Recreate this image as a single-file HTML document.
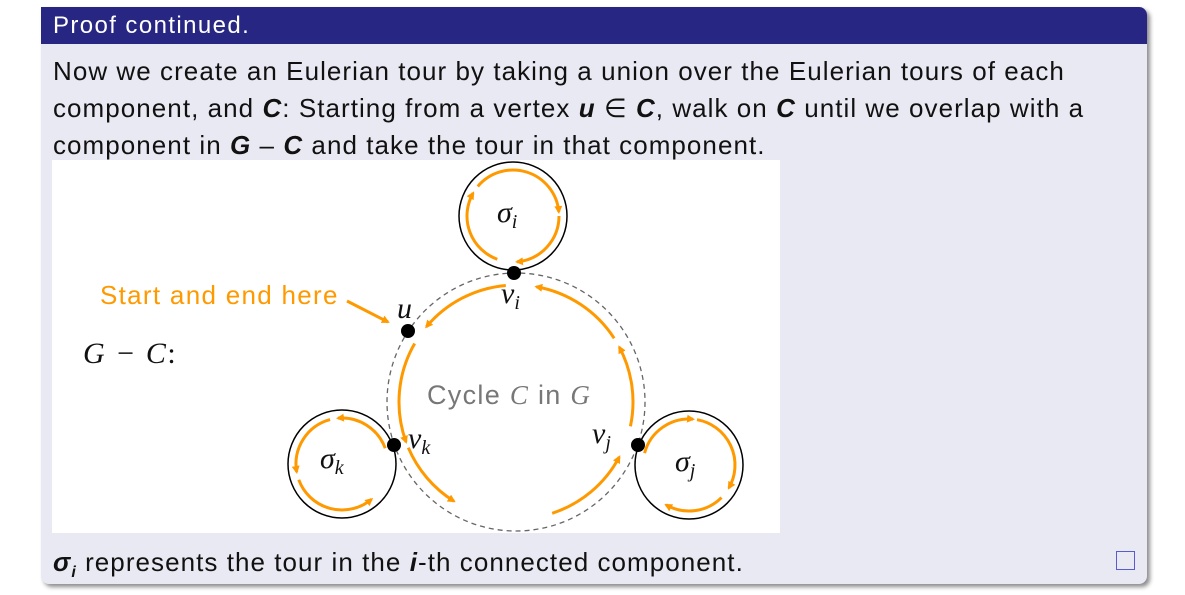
<!DOCTYPE html>
<html><head><meta charset="utf-8">
<style>
body{margin:0;width:1185px;height:595px;background:#fff;overflow:hidden;font-family:"Liberation Sans",sans-serif;position:relative}
#box{position:absolute;left:41px;top:7px;width:1106px;height:577px;background:#e9e9f3;border-radius:0 8px 8px 8px;box-shadow:3px 3px 4px rgba(0,0,0,.45)}
#hdr{position:absolute;left:0;top:0;width:100%;height:37px;background:#272783;border-radius:0 8px 0 0;color:#fff;font-size:24px;letter-spacing:1.4px;line-height:38px;padding-left:12px;box-sizing:border-box}
.t{position:absolute;left:12px;font-size:26px;letter-spacing:1.05px;color:#111;white-space:nowrap}
#img{position:absolute;left:11px;top:153px;width:728px;height:373px;background:#fff}
#qed{position:absolute;left:1075px;top:544px;width:17px;height:17px;border:1.5px solid #5b5bd0}
</style></head><body>
<div id="box">
<div id="hdr">Proof continued.</div>
<div class="t" style="top:49px">Now we create an Eulerian tour by taking a union over the Eulerian tours of each</div>
<div class="t" style="top:86px">component, and <b><i>C</i></b>: Starting from a vertex <b><i>u</i></b> ∈ <b><i>C</i></b>, walk on <b><i>C</i></b> until we overlap with a</div>
<div class="t" style="top:123px">component in <b><i>G</i></b> – <b><i>C</i></b> and take the tour in that component.</div>
<div id="img"></div>
<div class="t" style="top:540px"><b><i>σ<sub style="font-size:16px">i</sub></i></b> represents the tour in the <b><i>i</i></b>-th connected component.</div>
<div id="qed"></div>
</div>
<svg id="dg" width="1185" height="595" style="position:absolute;left:0;top:0">
<defs><marker id="ah" markerWidth="8" markerHeight="8" refX="6" refY="4" orient="auto" markerUnits="userSpaceOnUse"><path d="M0,0 L8,4 L0,8 z" fill="#ff9900"/></marker></defs>
<circle cx="516" cy="402" r="129" fill="none" stroke="#666" stroke-width="1.3" stroke-dasharray="5,4"/>
<circle cx="513" cy="216" r="54" fill="none" stroke="#000" stroke-width="1.5"/>
<circle cx="342" cy="464" r="54" fill="none" stroke="#000" stroke-width="1.5"/>
<circle cx="689" cy="465" r="54" fill="none" stroke="#000" stroke-width="1.5"/>
<g id="paths"></g>
<line x1="347" y1="301" x2="388" y2="322" stroke="#ff9900" stroke-width="3" marker-end="url(#ah)"/>
<circle cx="514" cy="273" r="7"/>
<circle cx="408" cy="331" r="7"/>
<circle cx="394" cy="445" r="7"/>
<circle cx="638" cy="445" r="7"/>
<g font-family="Liberation Serif,serif" font-style="italic" font-size="30" fill="#111">
<text x="497" y="222">σ<tspan font-size="20" dy="6">i</tspan></text>
<text x="320" y="468">σ<tspan font-size="20" dy="6">k</tspan></text>
<text x="675" y="471">σ<tspan font-size="20" dy="6">j</tspan></text>
<text x="501" y="303">v<tspan font-size="20" dy="6">i</tspan></text>
<text x="397" y="318">u</text>
<text x="408" y="448">v<tspan font-size="20" dy="6">k</tspan></text>
<text x="592" y="443">v<tspan font-size="20" dy="6">j</tspan></text>
<text x="83" y="363" font-size="30" letter-spacing="1.5">G − C<tspan font-style="normal">:</tspan></text>
</g>
<text x="100" y="304" font-size="26" letter-spacing="1.3" fill="#ff9900">Start and end here</text>
<text x="427" y="404" font-size="27" letter-spacing="1.3" fill="#777">Cycle <tspan font-family="Liberation Serif,serif" font-style="italic">C</tspan> in <tspan font-family="Liberation Serif,serif" font-style="italic">G</tspan></text>
</svg>
<script>
// arc segments: [cx, cy, r, startDeg, endDeg]
const arcs=[
[516,402,117,-95,-140],[516,402,117,-150,-200],[516,402,117,157,122],
[516,402,117,72,28],[516,402,117,12,-28],[516,402,117,-33,-80],
[513,216,46,110,210],[513,216,46,220,355],[513,216,46,0,85],
[342,464,46,-20,-95],[342,464,46,-105,-190],[342,464,46,160,50],
[689,465,46,195,275],[689,465,46,-80,30],[689,465,46,45,120]
];
const g=document.getElementById('paths');
function pt(c,a){const r=a*Math.PI/180;return [c[0]+c[2]*Math.cos(r),c[1]+c[2]*Math.sin(r)];}
arcs.forEach(function(c){
 const p1=pt(c,c[3]),p2=pt(c,c[4]);
 const d=c[4]-c[3];const large=Math.abs(d)>180?1:0;const sweep=d>0?1:0;
 const p=document.createElementNS('http://www.w3.org/2000/svg','path');
 p.setAttribute('d','M'+p1[0]+','+p1[1]+' A'+c[2]+','+c[2]+' 0 '+large+' '+sweep+' '+p2[0]+','+p2[1]);
 p.setAttribute('fill','none');p.setAttribute('stroke','#ff9900');p.setAttribute('stroke-width','3');
 p.setAttribute('marker-end','url(#ah)');
 
 
 g.appendChild(p);
});
</script>
</body></html>
